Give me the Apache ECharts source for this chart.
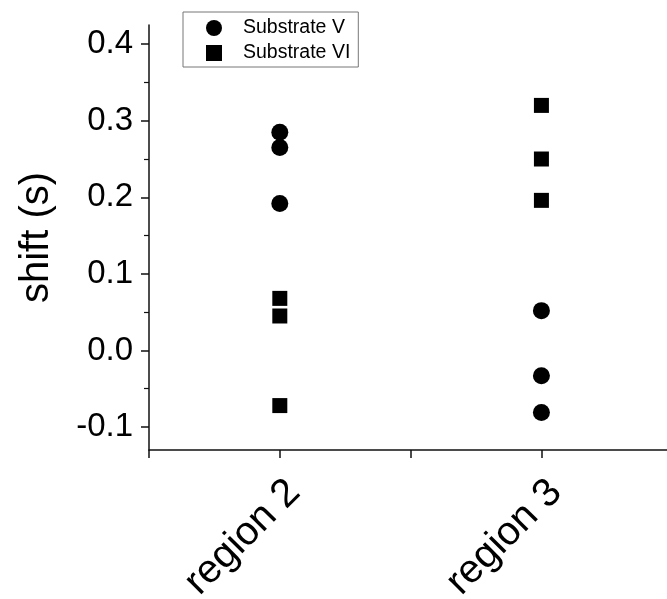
<!DOCTYPE html>
<html><head><meta charset="utf-8">
<script src="https://cdn.jsdelivr.net/npm/echarts@6/dist/echarts.min.js"></script>
<style>html,body{margin:0;padding:0;background:#fff}#c{width:667px;height:599px}</style>
</head><body><div id="c"></div>
<script>
const categories = ['region 2', 'region 3'];
const categoryPos = [2, 3];
const substrateV = [[0.285, 0.265, 0.192], [0.052, -0.033, -0.081]];
const substrateVI = [[0.068, 0.045, -0.072], [0.320, 0.250, 0.196]];
const seriesNames = ['Substrate V', 'Substrate VI'];
const yTicks = [-0.1, 0, 0.1, 0.2, 0.3, 0.4];
const xTicks = [1.5, 2, 2.5, 3];

function toPoints(vals) {
  const out = [];
  vals.forEach((arr, i) => arr.forEach(v => out.push([categoryPos[i], v])));
  return out;
}
const font = 'Liberation Sans, Arial, sans-serif';
const chart = echarts.init(document.getElementById('c'), null, {renderer: 'canvas'});
chart.setOption({
  animation: false,
  backgroundColor: '#fff',
  grid: {left: 149, width: 518, top: 25, height: 425, outerBoundsMode: 'none', containLabel: false},
  legend: {
    orient: 'vertical', left: 183, top: 12,
    borderColor: '#777', borderWidth: 1, borderRadius: 0,
    padding: [6, 8, 4, 23], itemGap: 5, itemWidth: 16, itemHeight: 16,
    textStyle: {fontFamily: font, fontSize: 19.5, color: '#000', padding: [0, 0, 0, 16]},
    data: [{name: seriesNames[0], icon: 'circle'}, {name: seriesNames[1], icon: 'rect'}]
  },
  xAxis: {
    type: 'value', min: 1.5, max: 3.48,
    axisLine: {onZero: false, lineStyle: {color: '#111', width: 1.5}},
    axisTick: {show: true, inside: false, length: 8, lineStyle: {color: '#111', width: 1.5},
      customValues: xTicks},
    splitLine: {show: false},
    axisLabel: {
      rotate: 45, margin: 22, verticalAlign: 'top', fontFamily: font, fontSize: 40, color: '#000',
      customValues: categoryPos,
      formatter: v => { const i = categoryPos.indexOf(v); return i >= 0 ? categories[i] : ''; }
    }
  },
  yAxis: {
    type: 'value', min: -0.13, max: 0.425,
    name: 'shift (s)', nameLocation: 'middle', nameGap: 92, nameRotate: 90,
    nameTextStyle: {fontFamily: font, fontSize: 40, color: '#000'},
    axisLine: {show: true, onZero: false, lineStyle: {color: '#111', width: 1.5}},
    axisTick: {show: true, inside: false, length: 8, lineStyle: {color: '#111', width: 1.5},
      customValues: yTicks},
    minorTick: {show: true, splitNumber: 2, length: 5, lineStyle: {color: '#111', width: 1.2}},
    splitLine: {show: false},
    axisLabel: {
      margin: 16, fontFamily: font, fontSize: 33, color: '#000',
      customValues: yTicks,
      formatter: v => v.toFixed(1)
    }
  },
  series: [
    {name: seriesNames[0], type: 'scatter', symbol: 'circle', symbolSize: 17,
     itemStyle: {color: '#000', opacity: 1}, data: toPoints(substrateV)},
    {name: seriesNames[1], type: 'scatter', symbol: 'rect', symbolSize: 15,
     itemStyle: {color: '#000', opacity: 1}, data: toPoints(substrateVI)}
  ]
});
</script></body></html>
